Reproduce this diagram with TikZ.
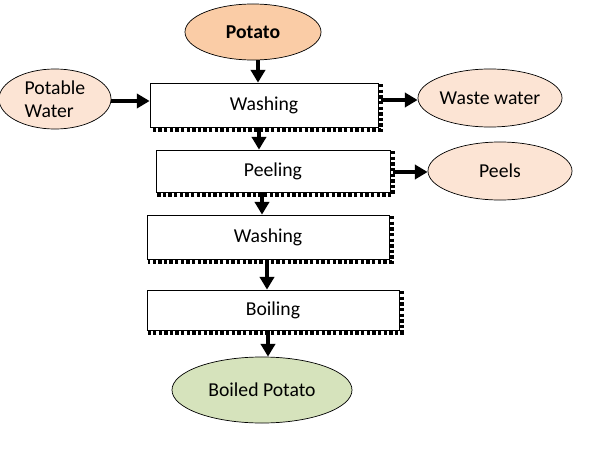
\documentclass[tikz,border=0pt]{standalone}
\usepackage{fontspec}
\setmainfont{Carlito}
\usetikzlibrary{positioning,arrows.meta,shapes.geometric}
\definecolor{ppPeach}{RGB}{250,204,166}
\definecolor{ppLight}{RGB}{252,228,212}
\definecolor{ppGreen}{RGB}{214,227,188}

\begin{document}
\begin{tikzpicture}[
    x=0.025cm, y=-0.025cm,
    font=\fontsize{14}{16}\selectfont,
    process/.style={rectangle, draw=black, line width=0.5pt, fill=white, minimum height=1.1cm},
    product/.style={ellipse, draw=black, line width=0.5pt, inner sep=0pt},
    flow/.style={-{Triangle[length=9pt,width=10pt]}, line width=2.4pt},
    shade edge/.style={line width=2.8pt, dash pattern=on 2.4pt off 1.6pt}
]
  \useasboundingbox (0,0) rectangle (613,460);

  % raw material and main line
  \node[product, fill=ppPeach, minimum width=3.4cm, minimum height=1.4cm, font=\fontsize{14}{16}\selectfont\bfseries] (potato) at (253,32) {Potato};
  \node[process, minimum width=5.7cm] (wash1) at (264,105) {Washing};
  \node[process, minimum width=5.85cm, minimum height=1.05cm] (peel) at (273,171) {Peeling};
  \node[process, minimum width=6.05cm] (wash2) at (268,237) {Washing};
  \node[process, minimum width=6.3cm, minimum height=1.0cm] (boil) at (273,310) {Boiling};
  \node[product, fill=ppGreen, minimum width=4.5cm, minimum height=1.65cm] (boiled) at (262,390) {Boiled Potato};

  % side streams
  \node[product, fill=ppLight, minimum width=2.8cm, minimum height=1.5cm, align=left] (water) at (55,99) {Potable\\Water};
  \node[product, fill=ppLight, minimum width=3.6cm, minimum height=1.45cm] (waste) at (490,98) {Waste water};
  \node[product, fill=ppLight, minimum width=3.6cm, minimum height=1.45cm] (peels) at (500,171) {Peels};

  % dashed shadows on the boxes
  \foreach \b in {wash1,peel,wash2,boil}
    \draw[shade edge] ([xshift=1.6pt,yshift=-1pt]\b.north east) |- ([xshift=1pt,yshift=-1.6pt]\b.south west);

  \draw[flow] (potato.south -| 258,0) -- (wash1.north -| 258,0);
  \draw[flow] (wash1.south -| 259,0) -- (peel.north -| 259,0);
  \draw[flow] (peel.south -| 262,0) -- (wash2.north -| 262,0);
  \draw[flow] (wash2.south -| 267,0) -- (boil.north -| 267,0);
  \draw[flow] (boil.south -| 268,0) -- (boiled.north -| 268,0);
  \draw[flow] (water.east |- 0,101) -- (wash1.west |- 0,101);
  \draw[flow] ([xshift=2pt]wash1.east |- 0,100) -- (waste.west |- 0,100);
  \draw[flow] ([xshift=2pt]peel.east |- 0,172) -- (peels.west |- 0,172);
\end{tikzpicture}
\end{document}
